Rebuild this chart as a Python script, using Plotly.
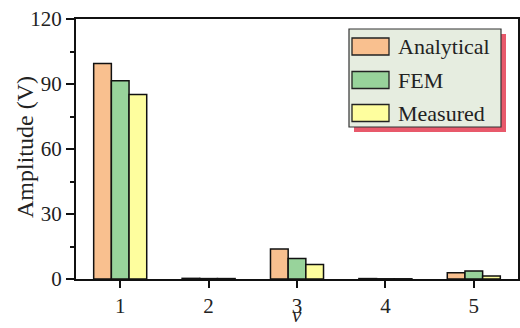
import plotly.graph_objects as go

# Harmonic order and amplitude of each method
orders = [1, 2, 3, 4, 5]
analytical = [99.5, 0.3, 13.8, 0.2, 2.9]
fem = [91.5, 0.2, 9.5, 0.1, 3.7]
measured = [85.2, 0.2, 6.7, 0.1, 1.4]

series_names = ["Analytical", "FEM", "Measured"]
series_values = [analytical, fem, measured]
series_colors = ["#F9C08F", "#98D39B", "#FEFE9E"]

y_ticks = [0, 30, 60, 90, 120]

W, H = 520, 328
ML, MR, MT, MB = 76, 2, 19, 49
PW, PH = W - ML - MR, H - MT - MB
FONT = "'Liberation Serif', 'Times New Roman', serif"

fig = go.Figure()
for name, vals, col in zip(series_names, series_values, series_colors):
    fig.add_trace(go.Bar(
        x=orders, y=vals, name=name,
        marker=dict(color=col, line=dict(color="#111111", width=1.5)),
        showlegend=False,
    ))


def px_x(p):
    return (p - ML) / PW


def px_y(p):
    return (H - MB - p) / PH


# Hand-built legend box with a drop shadow
shapes = []
box = (349, 29, 501, 127)
off = 5
shapes.append(dict(type="rect", xref="paper", yref="paper",
                   x0=px_x(box[0] + off), x1=px_x(box[2] + off),
                   y0=px_y(box[1] + off), y1=px_y(box[3] + off),
                   fillcolor="#E8596B", line=dict(width=0), layer="above"))
shapes.append(dict(type="rect", xref="paper", yref="paper",
                   x0=px_x(box[0]), x1=px_x(box[2]),
                   y0=px_y(box[1]), y1=px_y(box[3]),
                   fillcolor="#E6EDE0", line=dict(color="#333333", width=1.2),
                   layer="above"))
annotations = []
row_centers = [46.5, 80, 113]
for name, col, cy in zip(series_names, series_colors, row_centers):
    shapes.append(dict(type="rect", xref="paper", yref="paper",
                       x0=px_x(352), x1=px_x(389),
                       y0=px_y(cy - 8.5), y1=px_y(cy + 8.5),
                       fillcolor=col, line=dict(color="#222222", width=1.3),
                       layer="above"))
    annotations.append(dict(xref="paper", yref="paper", x=px_x(396), y=px_y(cy),
                            text=name, showarrow=False, xanchor="left",
                            yanchor="middle",
                            font=dict(family=FONT, size=22, color="#222222")))

# Axis titles
annotations.append(dict(xref="x", yref="paper", x=3, y=px_y(328),
                        text="<i>v</i>", showarrow=False, borderpad=0,
                        xanchor="center", yanchor="bottom",
                        font=dict(family=FONT, size=21, color="#222222")))
annotations.append(dict(xref="paper", yref="paper", x=px_x(25), y=px_y(147),
                        text="Amplitude (V)", showarrow=False, textangle=-90,
                        xanchor="center", yanchor="middle",
                        font=dict(family=FONT, size=24, color="#222222")))

fig.update_layout(
    width=W, height=H,
    margin=dict(l=ML, r=MR, t=MT, b=MB),
    paper_bgcolor="white", plot_bgcolor="white",
    barmode="group", bargap=0.4, bargroupgap=0,
    font=dict(family=FONT, size=21, color="#222222"),
    shapes=shapes, annotations=annotations,
)
fig.update_xaxes(
    range=[0.5, 5.5], tickvals=orders, ticktext=[str(o) for o in orders],
    showline=True, linecolor="#111111", linewidth=2, mirror=True,
    ticks="outside", ticklen=7, tickwidth=2, tickcolor="#111111",
    showgrid=False, zeroline=False, automargin=False,
    tickfont=dict(family=FONT, size=21),
)
fig.update_yaxes(
    range=[0, 120], tickvals=y_ticks,
    showline=True, linecolor="#111111", linewidth=2, mirror=True,
    ticks="outside", ticklen=8, tickwidth=2, tickcolor="#111111",
    minor=dict(dtick=15, ticks="outside", ticklen=4, tickwidth=2,
               tickcolor="#111111", showgrid=False),
    showgrid=False, zeroline=False, automargin=False,
    tickfont=dict(family=FONT, size=21),
)

fig.write_html("out.html")
